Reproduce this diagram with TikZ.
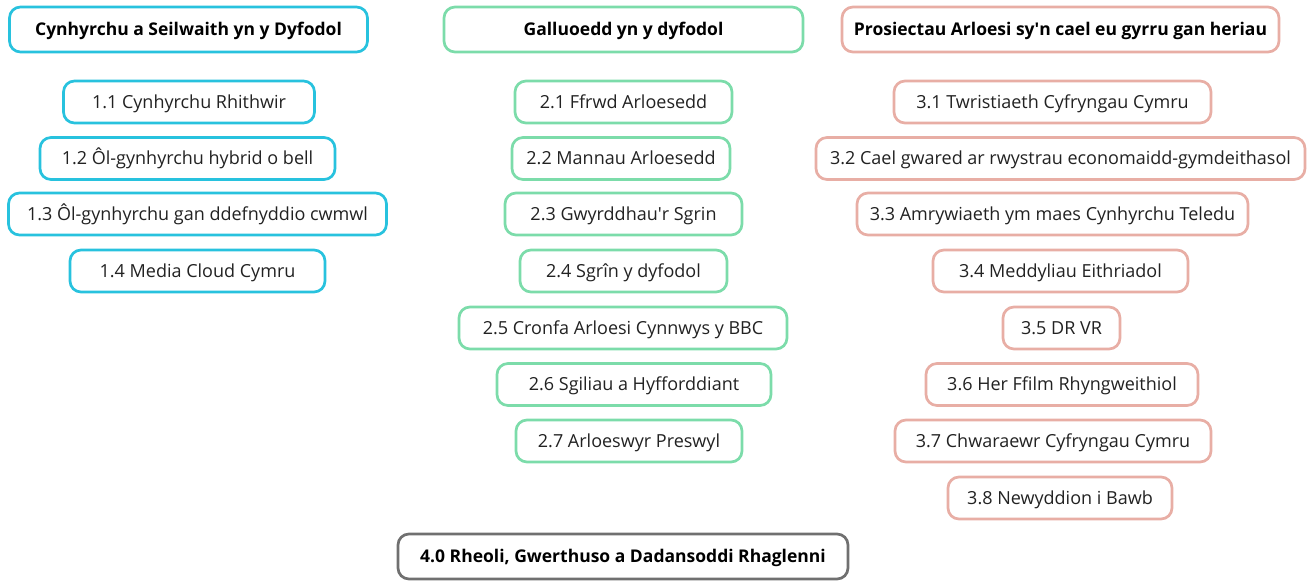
\documentclass[tikz,border=0pt]{standalone}
\usepackage{fontspec}
\setmainfont{Open Sans}
\definecolor{cyanb}{RGB}{40,194,222}
\definecolor{greenb}{RGB}{124,220,170}
\definecolor{pinkb}{RGB}{232,174,165}
\definecolor{grayb}{RGB}{112,112,112}
\definecolor{txt}{RGB}{34,34,34}
\tikzset{
  box/.style={draw, rounded corners=11pt, line width=2.7pt, minimum height=42pt, inner sep=0pt, text height=14pt, text depth=1.2pt, fill=white, text=txt, font=\fontsize{18}{21}\selectfont},
  head/.style={box, minimum height=45pt, text height=15pt, text depth=2.5pt, text=black, font=\fontsize{17.5}{21}\selectfont\bfseries},
  c1/.style={draw=cyanb},
  c2/.style={draw=greenb},
  c3/.style={draw=pinkb},
  c4/.style={draw=grayb},
}
\begin{document}
\begin{tikzpicture}[x=1pt,y=-1pt]
\useasboundingbox (0,0) rectangle (1309,581);
% column 1
\node[head,c1,minimum width=358pt] (h1) at (188.5,29.5) {Cynhyrchu a Seilwaith yn y Dyfodol};
\node[box,c1,minimum width=251pt] (n11) at (189,102) {1.1 Cynhyrchu Rhithwir};
\node[box,c1,minimum width=295pt] (n12) at (187.5,158.5) {1.2 Ôl-gynhyrchu hybrid o bell};
\node[box,c1,minimum width=378pt] (n13) at (197.5,214) {1.3 Ôl-gynhyrchu gan ddefnyddio cwmwl};
\node[box,c1,minimum width=255pt] (n14) at (197.5,271) {1.4 Media Cloud Cymru};
% column 2
\node[head,c2,minimum width=359pt] (h2) at (623.5,29.5) {Galluoedd yn y dyfodol};
\node[box,c2,minimum width=217pt] (n21) at (623.5,102) {2.1 Ffrwd Arloesedd};
\node[box,c2,minimum width=218pt] (n22) at (621,158.5) {2.2 Mannau Arloesedd};
\node[box,c2,minimum width=237pt] (n23) at (623.5,214) {2.3 Gwyrddhau\textquotesingle r Sgrin};
\node[box,c2,minimum width=207pt] (n24) at (623.5,271) {2.4 Sgrîn y dyfodol};
\node[box,c2,minimum width=328pt] (n25) at (623,328) {2.5 Cronfa Arloesi Cynnwys y BBC};
\node[box,c2,minimum width=274pt] (n26) at (634,384.5) {2.6 Sgiliau a Hyfforddiant};
\node[box,c2,minimum width=226pt] (n27) at (629,441) {2.7 Arloeswyr Preswyl};
% column 3
\node[head,c3,minimum width=437pt] (h3) at (1060.5,29.5) {Prosiectau Arloesi sy\textquotesingle n cael eu gyrru gan heriau};
\node[box,c3,minimum width=317pt] (n31) at (1052.5,102) {3.1 Twristiaeth Cyfryngau Cymru};
\node[box,c3,minimum width=489pt] (n32) at (1060.5,158.5) {3.2 Cael gwared ar rwystrau economaidd-gymdeithasol};
\node[box,c3,minimum width=391pt] (n33) at (1052.5,214) {3.3 Amrywiaeth ym maes Cynhyrchu Teledu};
\node[box,c3,minimum width=255pt] (n34) at (1060.5,271) {3.4 Meddyliau Eithriadol};
\node[box,c3,minimum width=117pt] (n35) at (1061.5,328) {3.5 DR VR};
\node[box,c3,minimum width=272pt] (n36) at (1062,384.5) {3.6 Her Ffilm Rhyngweithiol};
\node[box,c3,minimum width=316pt] (n37) at (1053,441) {3.7 Chwaraewr Cyfryngau Cymru};
\node[box,c3,minimum width=224pt] (n38) at (1060,498) {3.8 Newyddion i Bawb};
% bottom
\node[head,c4,minimum width=450pt] (n40) at (623,556.5) {4.0 Rheoli, Gwerthuso a Dadansoddi Rhaglenni};
\end{tikzpicture}
\end{document}
